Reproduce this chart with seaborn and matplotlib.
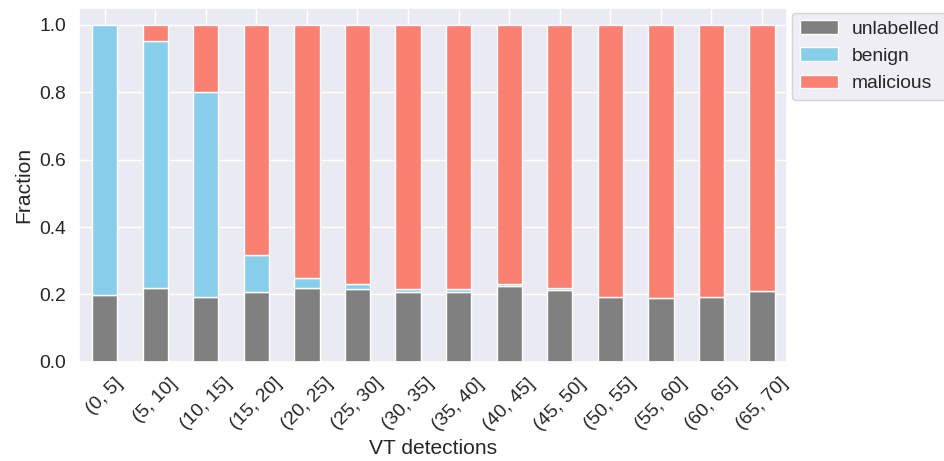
import matplotlib
matplotlib.use("Agg")
import matplotlib.pyplot as plt
import pandas as pd
import seaborn as sns

bins = ["(0, 5]", "(5, 10]", "(10, 15]", "(15, 20]", "(20, 25]", "(25, 30]", "(30, 35]",
        "(35, 40]", "(40, 45]", "(45, 50]", "(50, 55]", "(55, 60]", "(60, 65]", "(65, 70]"]
unlabelled = [0.197, 0.220, 0.191, 0.206, 0.220, 0.217, 0.206, 0.208, 0.225, 0.214,
              0.191, 0.189, 0.191, 0.211]
benign = [0.803, 0.732, 0.609, 0.112, 0.030, 0.014, 0.010, 0.007, 0.005, 0.004,
          0.0, 0.0, 0.0, 0.0]
malicious = [1 - u - b for u, b in zip(unlabelled, benign)]

sns.set_theme(style="darkgrid", font_scale=1.26)
plt.rcParams["font.family"] = ["Liberation Sans", "DejaVu Sans"]

df = pd.DataFrame({"unlabelled": unlabelled, "benign": benign, "malicious": malicious},
                  index=bins)

fig, ax = plt.subplots(figsize=(9.44, 4.61), dpi=100)
df.plot(kind="bar", stacked=True, ax=ax, color=["grey", "skyblue", "salmon"],
        edgecolor="white", width=0.5, rot=45)
ax.set_ylim(0, 1.05)
ax.set_xlabel("VT detections")
ax.set_ylabel("Fraction")
ax.legend(bbox_to_anchor=(1.0, 1.0), loc="upper left", borderaxespad=0.25,
          handletextpad=0.7)
plt.subplots_adjust(left=0.084, right=0.834, top=0.983, bottom=0.215)
plt.savefig("out.png")
plt.close()
